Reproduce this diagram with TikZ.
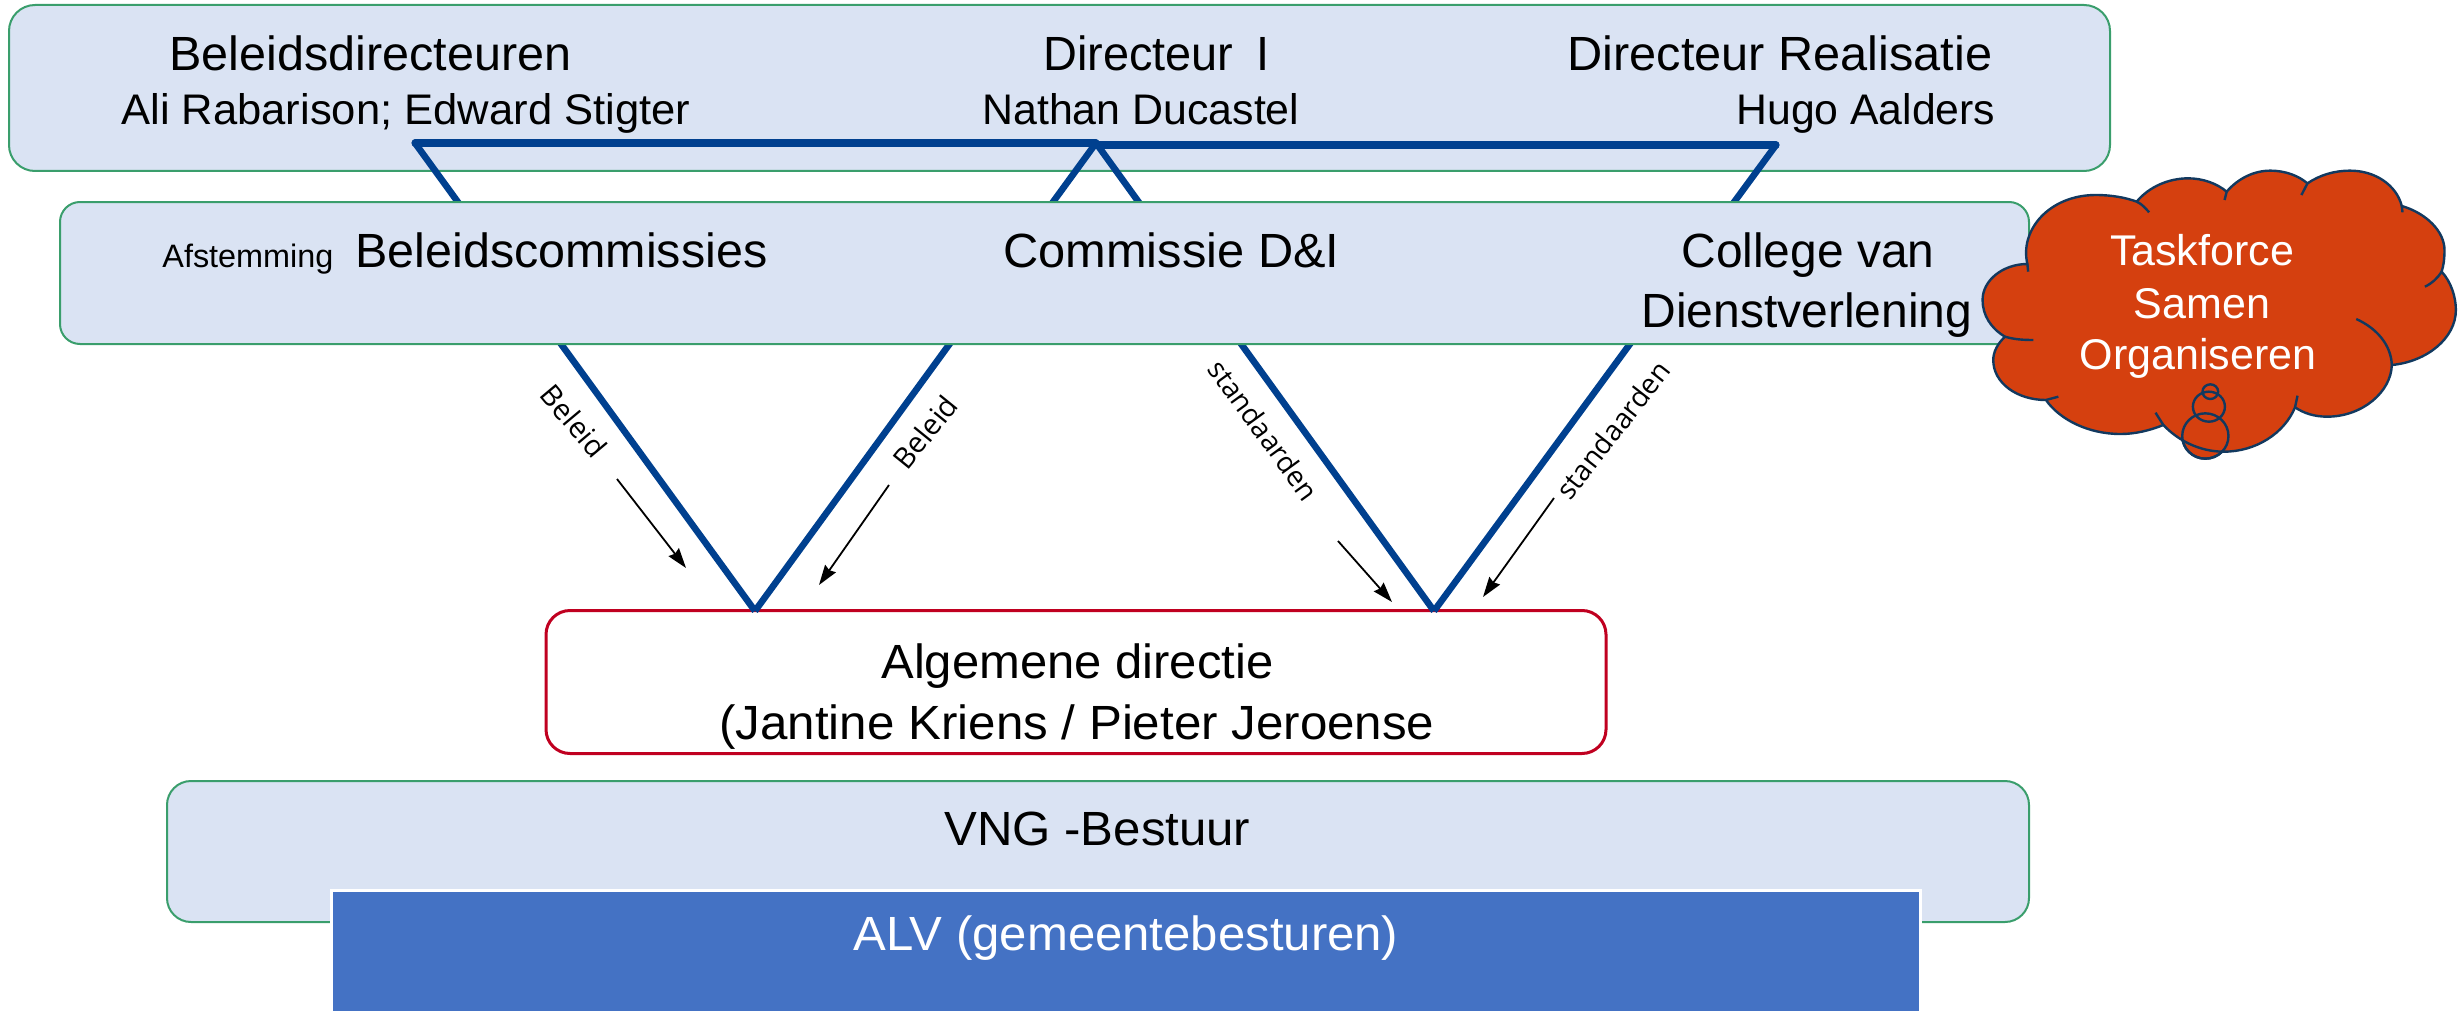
\documentclass[tikz,border=0pt]{standalone}
\usepackage{fontspec}
\usepackage{graphicx}
\setmainfont{Liberation Sans}
\newfontfamily\labfont{Open Sans}
\usetikzlibrary{arrows.meta}
\definecolor{boxfill}{HTML}{DAE3F3}
\definecolor{boxedge}{HTML}{3A9E6C}
\definecolor{redge}{HTML}{C00020}
\definecolor{bluel}{HTML}{00408F}
\definecolor{alvfill}{HTML}{4472C4}
\definecolor{cloudfill}{HTML}{D5400F}
\definecolor{cloudedge}{HTML}{12395F}
\newcommand\fitw[2]{\resizebox{#1}{\height}{#2}}
\tikzset{
  greenbox/.style={draw=boxedge,fill=boxfill,line width=1pt,inner sep=0pt},
  redbox/.style={draw=redge,fill=white,line width=1.5pt,rounded corners=12pt,inner sep=0pt},
  alvbox/.style={draw=white,fill=alvfill,line width=1.5pt,inner sep=0pt},
  vline/.style={draw=bluel,line width=3.6pt,line join=round,line cap=round},
  vlinet/.style={draw=bluel,line width=3.3pt},
  flow/.style={draw=black,line width=0.9pt,-{Stealth[length=10pt,width=6.5pt,inset=1pt]}},
  big/.style={anchor=base west,inner sep=0pt,font=\fontsize{24}{24}\selectfont},
  names/.style={anchor=base west,inner sep=0pt,font=\fontsize{21.4}{24}\selectfont},
  tiny/.style={anchor=base west,inner sep=0pt,font=\fontsize{16.2}{20}\selectfont},
  lab/.style={inner sep=0pt,font=\labfont\fontsize{14.5}{16}\selectfont},
  labs/.style={inner sep=0pt,font=\labfont\fontsize{14}{16}\selectfont},
  cloudtxt/.style={anchor=base,inner sep=0pt,text=white,font=\fontsize{21.5}{24}\selectfont},
  cloudline/.style={draw=cloudedge,line width=1.2pt,line join=round}
}
\begin{document}
\begin{tikzpicture}[x=0.5pt,y=-0.5pt]
\useasboundingbox (0,0) rectangle (2458,1011);
% top box
\node[greenbox,rounded corners=13pt,minimum width=1050.5pt,minimum height=83pt] (dir) at (1059.5,88) {};
% coordinates of the V-lines
\coordinate (p1) at (415,143);
\coordinate (p2) at (1096,143);
\coordinate (p3) at (1776,145);
\coordinate (v1) at (755,611);
\coordinate (v2) at (1434,611);
% red box
\node[redbox,minimum width=530pt,minimum height=71.5pt] (alg) at (1076,682) {};
% lines
\draw[vline] (p1) -- (p2);
\draw[vline] (p2 |- p3) -- (p3);
\draw[vlinet] (p1) -- (v1);
\draw[vlinet] (v1) -- (p2);
\draw[vlinet] (p2) -- (v2);
\draw[vlinet] (v2) -- (p3);
% second box
\node[greenbox,rounded corners=10pt,minimum width=984.5pt,minimum height=71pt] (com) at (1044.5,273) {};
% bottom boxes
\node[greenbox,rounded corners=12pt,minimum width=931pt,minimum height=70.5pt] (vng) at (1098,851.5) {};
\node[alvbox,minimum width=794.5pt,minimum height=66pt] (alv) at (1125.5,956) {};
% texts
\node[big] (t1) at (169,71) {\fitw{201pt}{Beleidsdirecteuren}};
\node[names] (t2) at (121,125) {\fitw{284.5pt}{Ali Rabarison; Edward Stigter}};
\node[big] (t3) at (1043,71) {\fitw{113pt}{Directeur\hspace{5pt} I}};
\node[names] (t4) at (982,125) {\fitw{158.5pt}{Nathan Ducastel}};
\node[big] (t5) at (1567,71) {\fitw{212.5pt}{Directeur Realisatie}};
\node[names] (t6) at (1736,125) {\fitw{129.5pt}{Hugo Aalders}};
\node[tiny] (t7) at (162,267) {\fitw{85.5pt}{Afstemming}};
\node[big] (t8) at (355,267) {\fitw{206pt}{Beleidscommissies}};
\node[big] (t9) at (1003,267) {\fitw{168pt}{Commissie D\&I}};
\node[big] (t10) at (1681,267) {\fitw{126.5pt}{College van}};
\node[big] (t11) at (1641,327) {\fitw{165.5pt}{Dienstverlening}};
\node[big] (t12) at (881,678) {\fitw{196pt}{Algemene directie}};
\node[big] (t13) at (719,739) {\fitw{357.5pt}{(Jantine Kriens / Pieter Jeroense}};
\node[big] (t14) at (944,845) {\fitw{153pt}{VNG -Bestuur}};
\node[big,text=white] (t15) at (853,950) {\fitw{272.5pt}{ALV (gemeentebesturen)}};
% flow arrows
\coordinate (a1s) at (617,479); \coordinate (a1e) at (686,568);
\coordinate (a2s) at (889,485); \coordinate (a2e) at (819,585);
\coordinate (a3s) at (1338,541); \coordinate (a3e) at (1392,602);
\coordinate (a4s) at (1554,498); \coordinate (a4e) at (1483,597);
\draw[flow] (a1s) -- (a1e);
\draw[flow] (a2s) -- (a2e);
\draw[flow] (a3s) -- (a3e);
\draw[flow] (a4s) -- (a4e);
% rotated labels
\node[lab,rotate=-50] (l1) at (574,421) {Beleid};
\node[lab,rotate=51] (l2) at (925,432) {Beleid};
\node[labs,rotate=-54] (l3) at (1264,430) {standaarden};
\node[labs,rotate=52] (l4) at (1613,430) {standaarden};
% cloud
\begin{scope}[shift={(1900,150)},x=0.17794pt,y=-0.16667pt]
\filldraw[cloudline,fill=cloudfill] (858,858) ellipse [x radius=65,y radius=68];
\path[cloudline,fill=cloudfill]
  (358,342) .. controls (335,240) and (420,135) .. (550,135) .. controls (595,135) and (635,143) .. (665,155)
  .. controls (700,110) and (755,85) .. (810,85) .. controls (850,85) and (890,100) .. (918,125)
  .. controls (950,85) and (995,62) .. (1040,62) .. controls (1085,62) and (1120,78) .. (1145,100)
  .. controls (1180,75) and (1220,62) .. (1265,62) .. controls (1335,62) and (1395,105) .. (1410,168)
  .. controls (1480,190) and (1530,245) .. (1530,300) .. controls (1530,325) and (1528,345) .. (1522,365)
  .. controls (1548,395) and (1562,440) .. (1562,480) .. controls (1562,565) and (1480,635) .. (1382,645)
  .. controls (1380,725) and (1300,800) .. (1200,800) .. controls (1165,800) and (1135,790) .. (1110,772)
  .. controls (1080,850) and (1000,905) .. (910,905) .. controls (840,905) and (780,870) .. (740,825)
  .. controls (700,842) and (660,852) .. (620,852) .. controls (530,852) and (450,810) .. (410,750)
  .. controls (330,750) and (262,700) .. (262,630) .. controls (262,605) and (275,580) .. (295,560)
  .. controls (255,535) and (232,495) .. (232,450) .. controls (232,390) and (290,342) .. (358,342)
  -- cycle;
\draw[cloudline] (665,155) .. controls (680,162) and (690,175) .. (700,187);
\draw[cloudline] (918,125) -- (912,150);
\draw[cloudline] (1145,100) -- (1128,135);
\draw[cloudline] (1410,168) -- (1412,187);
\draw[cloudline] (1522,365) .. controls (1510,385) and (1495,400) .. (1475,410);
\draw[cloudline] (1382,645) .. controls (1380,585) and (1340,535) .. (1282,507);
\draw[cloudline] (1110,772) -- (1117,737);
\draw[cloudline] (740,825) -- (718,788);
\draw[cloudline] (410,750) -- (445,740);
\draw[cloudline] (295,560) .. controls (320,568) and (345,570) .. (375,570);
\draw[cloudline] (358,342) -- (360,365);
\draw[cloudline] (858,858) ellipse [x radius=65,y radius=68];
\draw[cloudline] (868,770) ellipse [x radius=45,y radius=45];
\draw[cloudline] (872,725) ellipse [x radius=22,y radius=22];
\end{scope}
\node[cloudtxt] (c1) at (2202,265) {Taskforce};
\node[cloudtxt] (c2) at (2202,318) {Samen};
\node[cloudtxt] (c3) at (2198,369) {Organiseren};
\end{tikzpicture}
\end{document}
